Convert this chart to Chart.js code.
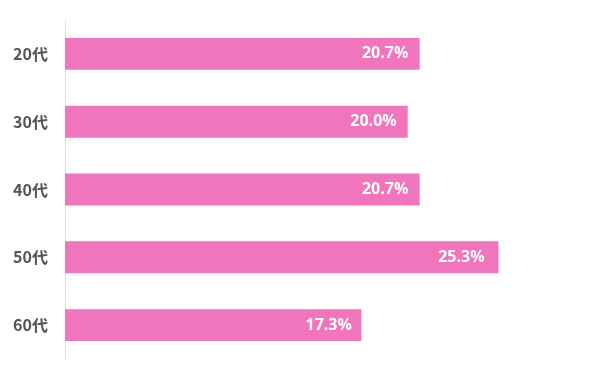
<!DOCTYPE html>
<html>
<head>
<meta charset="utf-8">
<script src="https://cdn.jsdelivr.net/npm/chart.js@4/dist/chart.umd.min.js"></script>
<style>
  html, body { margin: 0; padding: 0; background: #fff; }
  #wrap { width: 600px; height: 380px; position: relative; }
</style>
</head>
<body>
<div id="wrap"><canvas id="ageChart"></canvas></div>
<script>
const categories = ['20代', '30代', '40代', '50代', '60代'];
const shares = [20.7, 20.0, 20.7, 25.3, 17.3];

// draws the white value text inside the bar end
const valueLabels = {
    id: 'valueLabels',
    afterDatasetsDraw(chart) {
        const ctx = chart.ctx;
        const meta = chart.getDatasetMeta(0);
        ctx.save();
        ctx.fillStyle = '#ffffff';
        ctx.font = "bold 16px 'Open Sans', 'Noto Sans', sans-serif";
        ctx.textAlign = 'right';
        ctx.textBaseline = 'middle';
        meta.data.forEach(function(bar, i) {
            const len = bar.x - bar.base;
            ctx.fillText(shares[i].toFixed(1) + '%', bar.base + len * 0.968, bar.y);
        });
        ctx.restore();
    }
};

new Chart(document.getElementById('ageChart').getContext('2d'), {
    type: 'bar',
    data: {
        labels: categories,
        datasets: [{
            data: shares,
            backgroundColor: '#F075BC',
            barPercentage: 0.47,
            categoryPercentage: 1
        }]
    },
    options: {
        indexAxis: 'y',
        responsive: true,
        maintainAspectRatio: false,
        animation: false,
        plugins: {
            legend: { display: false },
            tooltip: { enabled: false }
        },
        scales: {
            x: {
                min: 0,
                max: 30,
                display: false
            },
            y: {
                afterFit: function(scale) {
                    scale.width = 65;
                    scale.paddingTop = 0;
                    scale.paddingBottom = 0;
                },
                grid: { display: false, drawTicks: false },
                border: { display: true, color: '#dddddd', width: 1 },
                ticks: {
                    color: '#555555',
                    padding: 17,
                    font: { size: 16, weight: 'bold', family: "'Noto Sans CJK JP', 'Noto Sans', sans-serif" }
                }
            }
        },
        layout: {
            padding: { top: 20, right: 21, bottom: 21, left: 0 }
        }
    },
    plugins: [valueLabels]
});
</script>
</body>
</html>
